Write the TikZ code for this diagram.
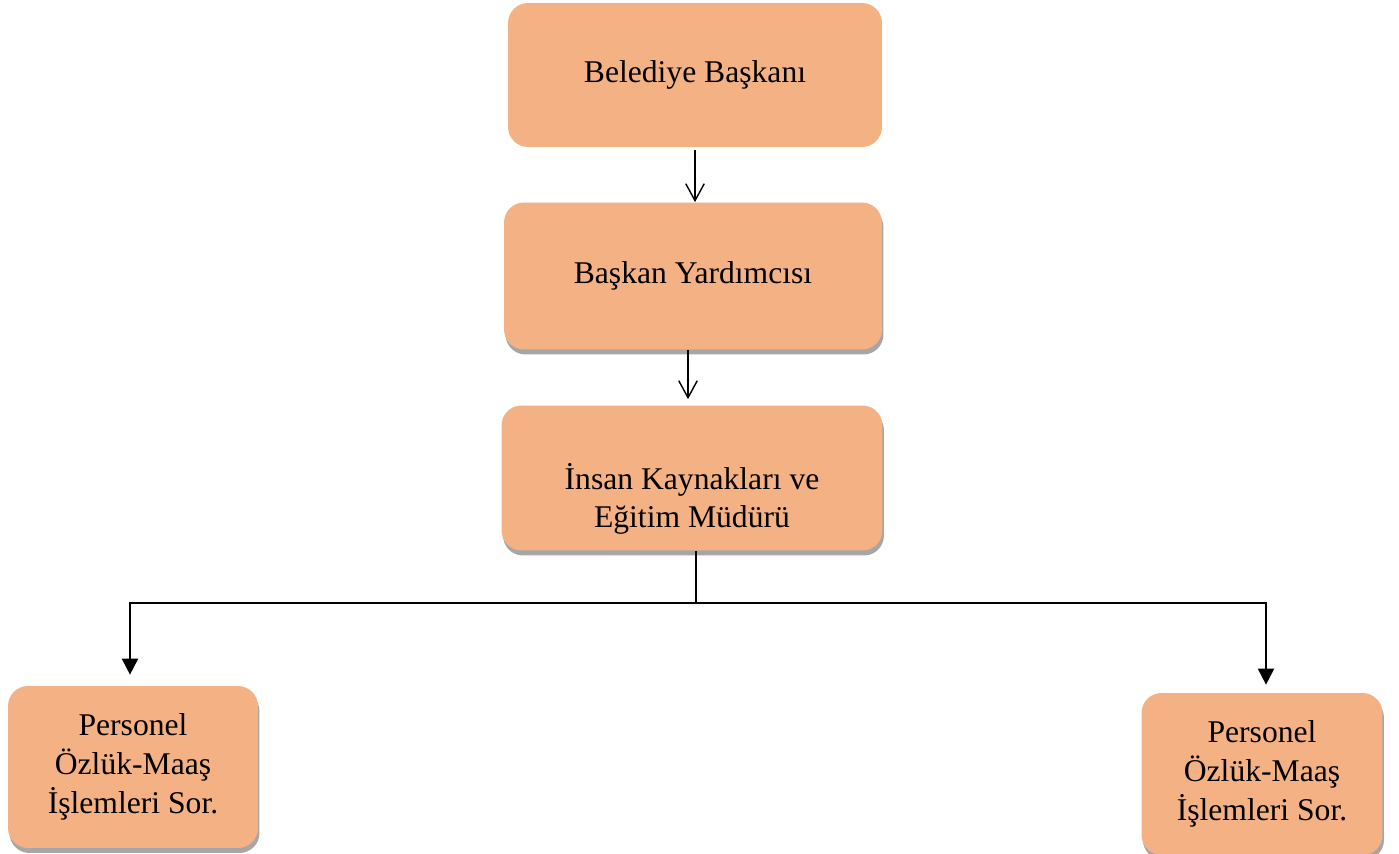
\documentclass[tikz,border=0pt]{standalone}
\usepackage{fontspec}
\setmainfont{Liberation Serif}
\usepackage{xcolor}
\usetikzlibrary{arrows.meta, positioning, shadows}
\definecolor{kutuRenk}{HTML}{F4B183}

\begin{document}
\begin{tikzpicture}[x=0.02cm,y=-0.02cm]
    \tikzstyle{kutu}=[shape=rectangle,rounded corners=0.4cm,fill=kutuRenk,align=center,font=\fontsize{18}{22}\selectfont]
    \tikzstyle{golge}=[drop shadow={shadow xshift=0.03cm,shadow yshift=-0.1cm,fill=black!35,opacity=1}]
    \tikzstyle{acik}=[-{Straight Barb[length=0.34cm,width=0.37cm]},line width=0.8pt]
    \tikzstyle{dolu}=[-{Triangle[length=0.32cm,width=0.32cm]},line width=1.1pt]

    \useasboundingbox (0,0) rectangle (1399,854);

    \node[kutu,minimum width=7.48cm,minimum height=2.88cm] (baskan) at (695,75) {Belediye Başkanı};
    \node[kutu,golge,minimum width=7.56cm,minimum height=2.94cm] (yardimci) at (693,276) {Başkan Yardımcısı};
    \node[kutu,golge,minimum width=7.62cm,minimum height=2.9cm] (mudur) at (692,478) {\rule{0pt}{1.35cm}İnsan Kaynakları ve\\Eğitim Müdürü};
    \node[kutu,golge,minimum width=5cm,minimum height=3.24cm] (sorumlu1) at (133,767) {Personel\\Özlük-Maaş\\İşlemleri Sor.};
    \node[kutu,golge,minimum width=4.82cm,minimum height=3.24cm] (sorumlu2) at (1262,774) {Personel\\Özlük-Maaş\\İşlemleri Sor.};

    \coordinate (kol) at (696,603);

    \draw[acik, shorten <=0.06cm] (baskan.south) -- (baskan.south |- yardimci.north);
    \draw[acik, shorten >=0.12cm] ([xshift=-0.1cm]yardimci.south) -- ([xshift=-0.1cm]yardimci.south |- mudur.north);
	\draw[line width=1.1pt] (mudur.south -| kol) -- (kol);
	\draw[dolu, shorten >=0.22cm] (kol) -| ([xshift=-0.06cm]sorumlu1.north);
	\draw[dolu, shorten >=0.16cm] (kol) -| ([xshift=0.08cm]sorumlu2.north);

\end{tikzpicture}
\end{document}
